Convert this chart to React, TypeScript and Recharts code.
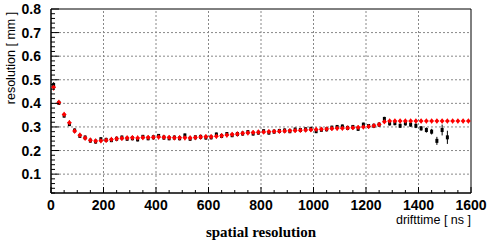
import React from 'react';
import { ScatterChart, Scatter, XAxis, YAxis, ErrorBar, ReferenceLine, ReferenceArea } from 'recharts';

// drift time bins [ns]
const times = [
  10, 30, 50, 70, 90, 110, 130, 150, 170, 190, 210, 230, 250, 270, 290, 310, 330, 350, 370, 390,
  410, 430, 450, 470, 490, 510, 530, 550, 570, 590, 610, 630, 650, 670, 690, 710, 730, 750, 770, 790,
  810, 830, 850, 870, 890, 910, 930, 950, 970, 990, 1010, 1030, 1050, 1070, 1090, 1110, 1130, 1150, 1170, 1190,
  1210, 1230, 1250, 1270, 1290, 1310, 1330, 1350, 1370, 1390, 1410, 1430, 1450, 1470, 1490, 1510, 1530, 1550, 1570, 1590,
];

// red series [mm]
const redRes = [
  0.468, 0.404, 0.353, 0.318, 0.283, 0.265, 0.253, 0.244, 0.24, 0.242, 0.244, 0.247, 0.25, 0.252, 0.253, 0.254, 0.253, 0.255, 0.255, 0.256,
  0.257, 0.256, 0.255, 0.254, 0.254, 0.254, 0.253, 0.255, 0.257, 0.258, 0.258, 0.261, 0.263, 0.266, 0.268, 0.27, 0.273, 0.275, 0.276, 0.278,
  0.279, 0.28, 0.281, 0.282, 0.283, 0.284, 0.285, 0.286, 0.287, 0.288, 0.289, 0.29, 0.291, 0.293, 0.294, 0.295, 0.296, 0.297, 0.298, 0.3,
  0.302, 0.305, 0.31, 0.322, 0.325, 0.325, 0.325, 0.325, 0.325, 0.325, 0.325, 0.325, 0.325, 0.325, 0.325, 0.325, 0.325, 0.325, 0.325, 0.325,
];
const redErr = [
  0.014, 0.011, 0.011, 0.011, 0.011, 0.011, 0.011, 0.011, 0.011, 0.011, 0.011, 0.011, 0.011, 0.011, 0.011, 0.011, 0.011, 0.011, 0.011, 0.011,
  0.011, 0.011, 0.011, 0.011, 0.011, 0.011, 0.011, 0.011, 0.011, 0.011, 0.011, 0.011, 0.011, 0.011, 0.011, 0.011, 0.011, 0.011, 0.011, 0.011,
  0.01, 0.01, 0.01, 0.01, 0.01, 0.01, 0.01, 0.01, 0.01, 0.01, 0.01, 0.01, 0.01, 0.01, 0.01, 0.01, 0.01, 0.01, 0.01, 0.01,
  0.01, 0.01, 0.01, 0.01, 0.01, 0.01, 0.01, 0.01, 0.01, 0.01, 0.01, 0.01, 0.01, 0.01, 0.01, 0.01, 0.01, 0.01, 0.01, 0.01,
];

// black series [mm], stops at 1510 ns
const blackRes = [
  0.478, 0.402, 0.348, 0.312, 0.285, 0.262, 0.255, 0.242, 0.238, 0.248, 0.245, 0.244, 0.25, 0.255, 0.25, 0.252, 0.247, 0.258, 0.252, 0.256,
  0.262, 0.255, 0.252, 0.255, 0.252, 0.264, 0.25, 0.256, 0.258, 0.255, 0.256, 0.268, 0.262, 0.27, 0.265, 0.27, 0.272, 0.278, 0.272, 0.276,
  0.282, 0.276, 0.28, 0.283, 0.285, 0.282, 0.289, 0.287, 0.29, 0.292, 0.282, 0.288, 0.29, 0.297, 0.3, 0.302, 0.296, 0.3, 0.292, 0.31,
  0.304, 0.305, 0.31, 0.334, 0.315, 0.316, 0.305, 0.315, 0.31, 0.305, 0.294, 0.287, 0.28, 0.241, 0.287, 0.256,
];
const blackErr = [
  0.012, 0.008, 0.008, 0.008, 0.008, 0.008, 0.008, 0.008, 0.008, 0.008, 0.008, 0.008, 0.008, 0.008, 0.008, 0.008, 0.008, 0.008, 0.008, 0.008,
  0.008, 0.008, 0.008, 0.008, 0.008, 0.008, 0.008, 0.008, 0.008, 0.008, 0.008, 0.008, 0.008, 0.008, 0.008, 0.008, 0.008, 0.008, 0.008, 0.008,
  0.008, 0.008, 0.008, 0.008, 0.008, 0.008, 0.008, 0.008, 0.008, 0.008, 0.008, 0.008, 0.008, 0.008, 0.008, 0.008, 0.008, 0.008, 0.008, 0.008,
  0.008, 0.008, 0.008, 0.009, 0.009, 0.009, 0.009, 0.009, 0.009, 0.01, 0.01, 0.011, 0.012, 0.017, 0.023, 0.028,
];

const xTicks = Array.from({ length: 33 }, (_, i) => i * 50);
const yTicks = Array.from({ length: 40 }, (_, i) => Math.round((i + 1) * 0.02 * 100) / 100);
const xGrid = [200, 400, 600, 800, 1000, 1200, 1400];
const yGrid = [0.1, 0.2, 0.3, 0.4, 0.5, 0.6, 0.7];

const redData = times.map((t, i) => ({ t, res: redRes[i], err: redErr[i] }));
const blackData = blackRes.map((r, i) => ({ t: times[i], res: r, err: blackErr[i] }));

const labelFont = '"Liberation Sans", Arial, sans-serif';

const XTick = (props: any) => {
  const { x, y, payload } = props;
  const v = payload.value;
  const major = v % 200 === 0;
  return (
    <g>
      <line x1={x} x2={x} y1={y} y2={y - (major ? 6 : 3)} stroke="#000" />
      {major && (
        <text x={x} y={y + 17} textAnchor="middle" fontFamily={labelFont} fontWeight="bold" fontSize={14} fill="#000">
          {v}
        </text>
      )}
    </g>
  );
};

const YTick = (props: any) => {
  const { x, y, payload } = props;
  const v = payload.value;
  const major = Math.abs(v * 10 - Math.round(v * 10)) < 1e-6;
  return (
    <g>
      <line x1={x} x2={x + (major ? 8 : 4)} y1={y} y2={y} stroke="#000" />
      {major && (
        <text x={x - 10} y={y + 5} textAnchor="end" fontFamily={labelFont} fontWeight="bold" fontSize={14} fill="#000">
          {v.toFixed(1)}
        </text>
      )}
    </g>
  );
};

const BlackDot = (props: any) => {
  const { cx, cy } = props;
  return <rect x={cx - 1.5} y={cy - 2} width={3} height={4} fill="#000" />;
};

const RedDot = (props: any) => {
  const { cx, cy } = props;
  return <path d={`M${cx} ${cy - 2.5}L${cx + 2.5} ${cy}L${cx} ${cy + 2.5}L${cx - 2.5} ${cy}Z`} fill="#f00" />;
};

export default function App() {
  return (
    <div style={{ position: 'absolute', left: 0, top: 0, width: 496, height: 242, background: '#fff' }}>
      <ScatterChart width={496} height={242} margin={{ top: 9, right: 25, bottom: 0, left: 0 }}>
        <XAxis
          type="number"
          dataKey="t"
          domain={[0, 1600]}
          ticks={xTicks}
          interval={0}
          height={49}
          tickSize={0}
          tickMargin={0}
          tickLine={false}
          axisLine={{ stroke: '#000' }}
          tick={<XTick />}
        />
        <YAxis
          type="number"
          dataKey="res"
          domain={[0.02, 0.8]}
          ticks={yTicks}
          interval={0}
          width={51}
          tickSize={0}
          tickMargin={0}
          tickLine={false}
          axisLine={{ stroke: '#000' }}
          tick={<YTick />}
        />
        {xGrid.map((g) => (
          <ReferenceLine key={'x' + g} x={g} stroke="#888" strokeDasharray="2 2" />
        ))}
        {yGrid.map((g) => (
          <ReferenceLine key={'y' + g} y={g} stroke="#888" strokeDasharray="2 2" />
        ))}
        <Scatter data={blackData} shape={<BlackDot />} isAnimationActive={false}>
          <ErrorBar dataKey="err" direction="y" width={0} stroke="#000" strokeWidth={1} />
        </Scatter>
        <Scatter data={redData} shape={<RedDot />} isAnimationActive={false}>
          <ErrorBar dataKey="err" direction="y" width={0} stroke="#f00" strokeWidth={1} />
        </Scatter>
        <ReferenceArea x1={0} x2={1600} y1={0.02} y2={0.8} fill="none" stroke="#000" />
      </ScatterChart>
      <div
        style={{
          position: 'absolute',
          left: 11,
          top: 58,
          transform: 'translate(-50%, -50%) rotate(-90deg)',
          fontFamily: labelFont,
          fontSize: 12.5,
          whiteSpace: 'nowrap',
          lineHeight: '12px',
        }}
      >
        resolution [ mm ]
      </div>
      <div
        style={{
          position: 'absolute',
          right: 25,
          top: 213,
          fontFamily: labelFont,
          fontSize: 12.5,
          whiteSpace: 'nowrap',
          lineHeight: '14px',
        }}
      >
        drifttime [ ns ]
      </div>
      <div
        style={{
          position: 'absolute',
          left: 261,
          top: 224,
          transform: 'translateX(-50%)',
          fontFamily: '"Liberation Serif", "Times New Roman", serif',
          fontWeight: 'bold',
          fontSize: 15,
          whiteSpace: 'nowrap',
          lineHeight: '16px',
        }}
      >
        spatial resolution
      </div>
    </div>
  );
}
